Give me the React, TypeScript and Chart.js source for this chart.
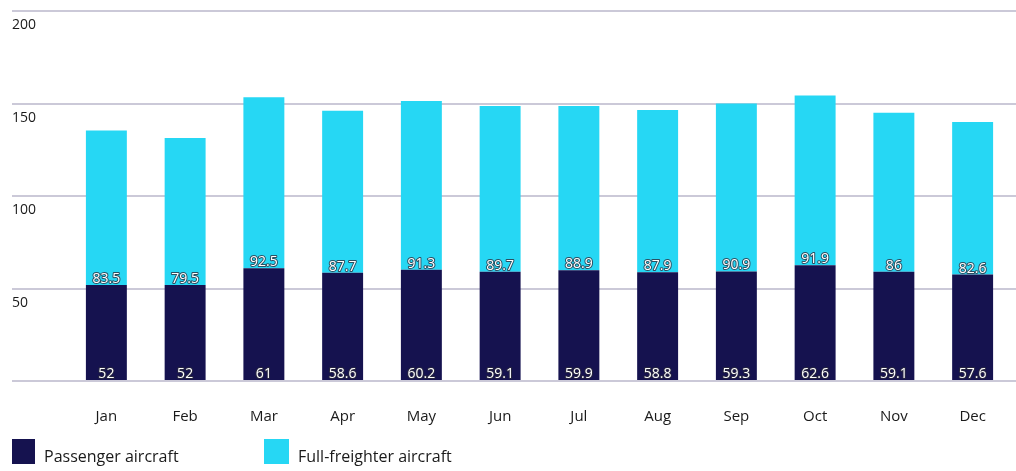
import React, { useEffect, useRef } from "react";
import { Chart, registerables } from "chart.js";

Chart.register(...registerables);

const months = ["Jan", "Feb", "Mar", "Apr", "May", "Jun", "Jul", "Aug", "Sep", "Oct", "Nov", "Dec"];
const passenger = [52, 52, 61, 58.6, 60.2, 59.1, 59.9, 58.8, 59.3, 62.6, 59.1, 57.6];
const freighter = [83.5, 79.5, 92.5, 87.7, 91.3, 89.7, 88.9, 87.9, 90.9, 91.9, 86, 82.6];
const seriesNames = ["Passenger aircraft", "Full-freighter aircraft"];
const yMin = 0;
const yMax = 200;
const yStep = 50;

const DARK = "#15124f";
const CYAN = "#26d7f4";
const GRID = "#cbc9d8";
const FONT = '"Open Sans", "Noto Sans", sans-serif';

const valueLabels = {
  id: "valueLabels",
  afterDatasetsDraw(chart: any) {
    const ctx = chart.ctx;
    ctx.save();
    ctx.font = `14px ${FONT}`;
    ctx.textAlign = "center";
    ctx.textBaseline = "alphabetic";
    ctx.lineJoin = "round";
    chart.data.datasets.forEach((ds: any, di: number) => {
      const meta = chart.getDatasetMeta(di);
      meta.data.forEach((bar: any, i: number) => {
        const { x, base } = bar.getProps(["x", "base"], true);
        const t = String(ds.data[i]);
        const y = base - 2;
        ctx.lineWidth = 2;
        ctx.strokeStyle = "rgba(45,45,60,0.8)";
        ctx.strokeText(t, x, y);
        ctx.fillStyle = "#ffffff";
        ctx.fillText(t, x, y);
      });
    });
    ctx.restore();
  },
};

export default function App() {
  const ref = useRef<HTMLCanvasElement>(null);

  useEffect(() => {
    document.body.style.margin = "0";
    const canvas = ref.current;
    if (!canvas) return;
    const chart = new Chart(canvas, {
      type: "bar",
      data: {
        labels: months,
        datasets: [
          { label: seriesNames[0], data: passenger, backgroundColor: DARK, barPercentage: 0.52, categoryPercentage: 1 },
          { label: seriesNames[1], data: freighter, backgroundColor: CYAN, barPercentage: 0.52, categoryPercentage: 1 },
        ],
      },
      options: {
        animation: false,
        responsive: false,
        layout: { padding: { left: 12, top: 7, right: 0, bottom: 0 } },
        plugins: { legend: { display: false }, tooltip: { enabled: false } },
        scales: {
          x: {
            stacked: true,
            grid: { display: false },
            border: { display: false },
            ticks: { padding: 19, color: "#1a1a1a", font: { family: FONT, size: 15 } },
            afterFit: (s: any) => {
              s.height = 90;
            },
          },
          y: {
            stacked: true,
            min: yMin,
            max: yMax,
            border: { display: false },
            grid: { color: GRID, lineWidth: 2, drawTicks: true, tickLength: 55 },
            ticks: {
              stepSize: yStep,
              crossAlign: "far",
              labelOffset: 14,
              color: "#1a1a1a",
              font: { family: FONT, size: 14 },
              callback: (v: any) => (v === 0 ? "" : String(v)),
            },
            afterFit: (s: any) => {
              s.width = 55;
            },
          },
          y2: {
            position: "right",
            min: yMin,
            max: yMax,
            border: { display: false },
            grid: { color: GRID, lineWidth: 2, drawTicks: true, tickLength: 4, drawOnChartArea: false },
            ticks: { stepSize: yStep, display: false },
            afterFit: (s: any) => {
              s.width = 4;
            },
          },
        },
      } as any,
      plugins: [valueLabels],
    });
    return () => chart.destroy();
  }, []);

  const legendText: React.CSSProperties = {
    position: "absolute",
    top: 447,
    fontFamily: FONT,
    fontSize: 16,
    lineHeight: "18px",
    color: "#1a1a1a",
    whiteSpace: "nowrap",
  };

  return (
    <div style={{ position: "relative", width: 1016, height: 471, overflow: "hidden" }}>
      <canvas ref={ref} width={1016} height={471} style={{ display: "block" }} />
      <div style={{ position: "absolute", left: 12, top: 439, width: 23, height: 25, background: DARK }} />
      <span style={{ ...legendText, left: 44 }}>{seriesNames[0]}</span>
      <div style={{ position: "absolute", left: 264, top: 439, width: 25, height: 25, background: CYAN }} />
      <span style={{ ...legendText, left: 298 }}>{seriesNames[1]}</span>
    </div>
  );
}
